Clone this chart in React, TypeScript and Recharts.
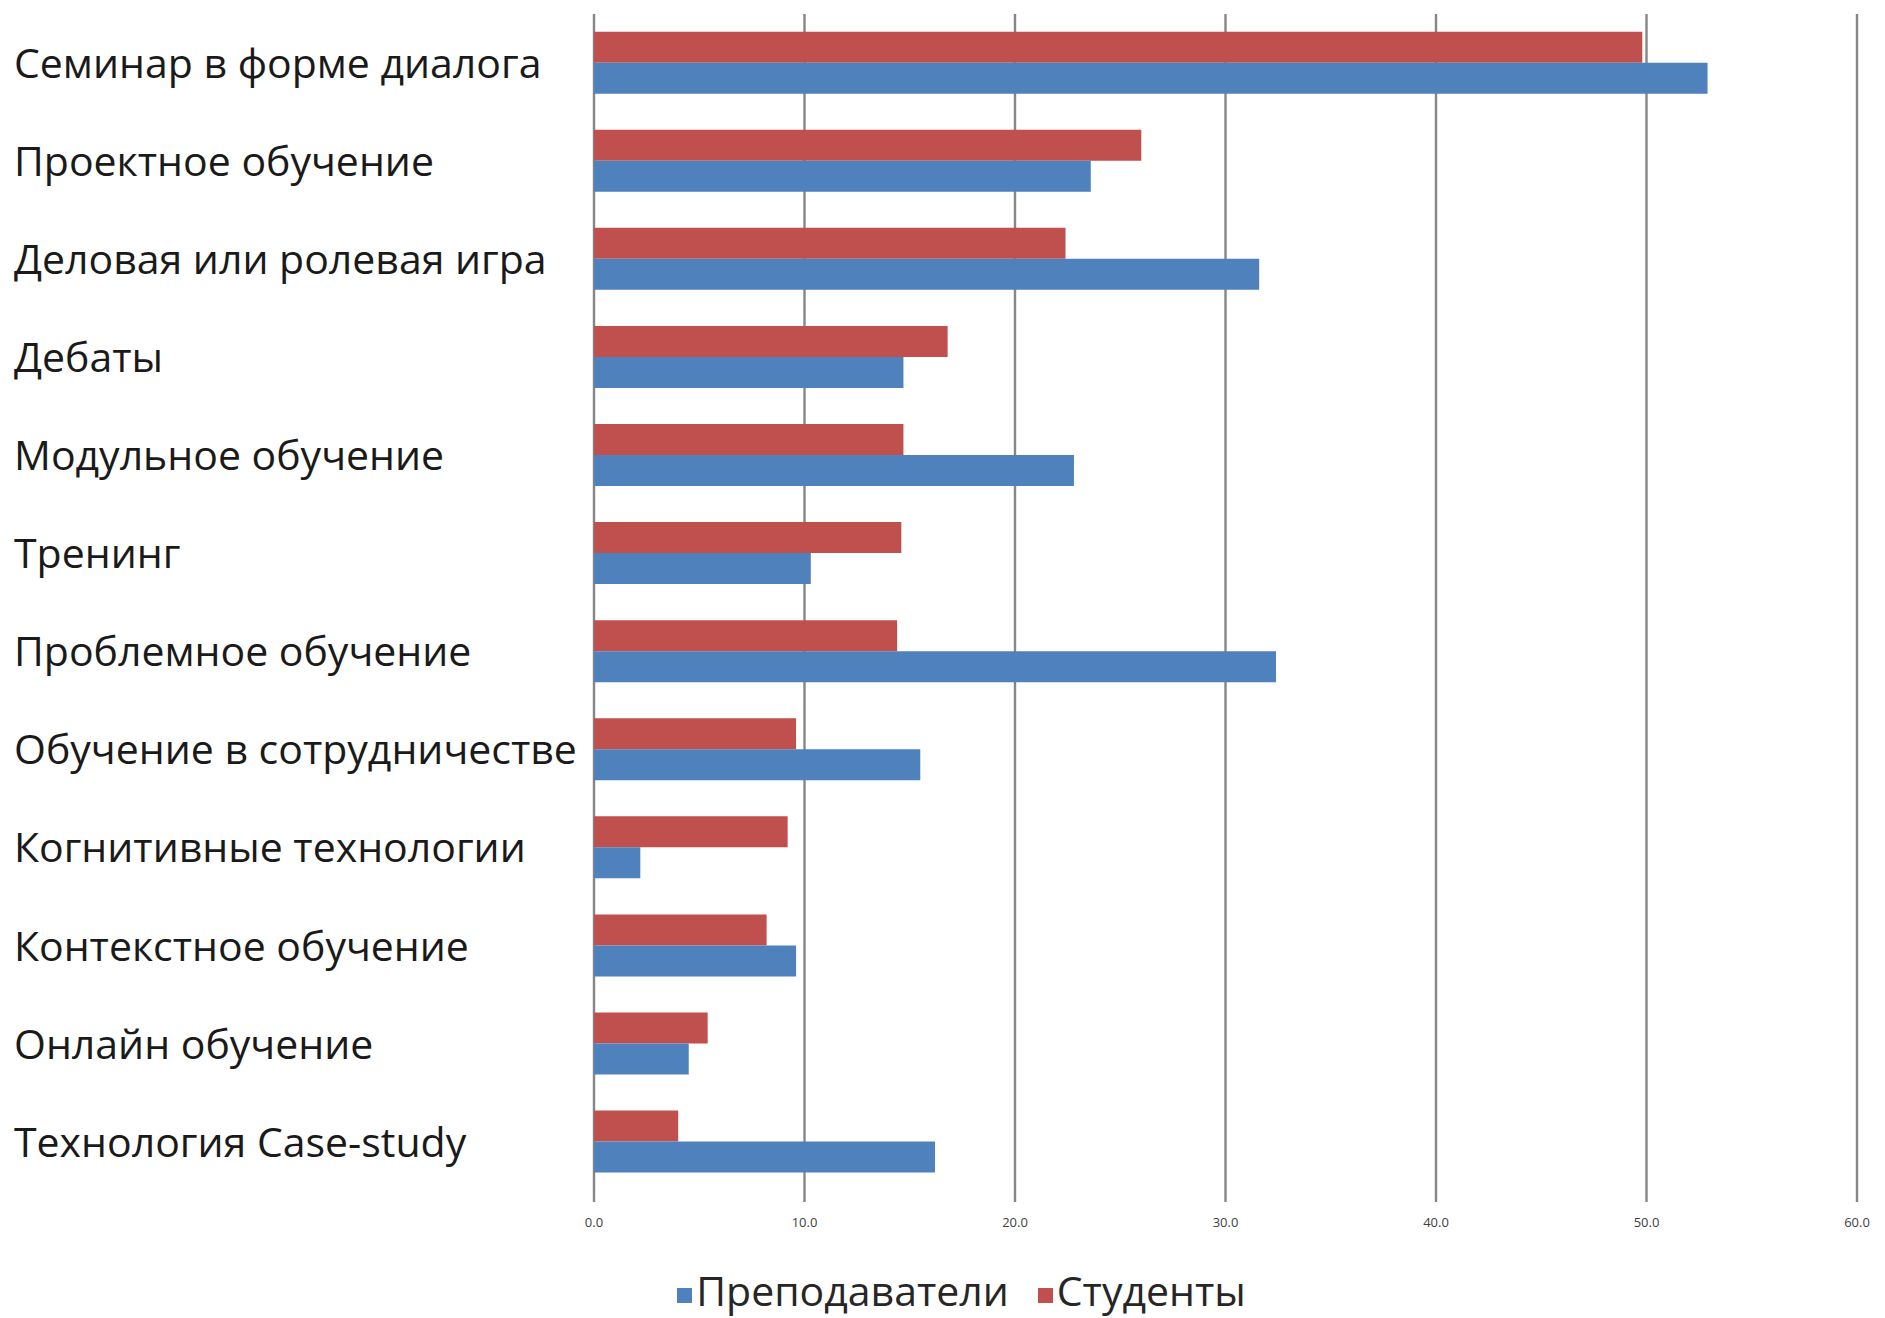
import React from "react"
import { BarChart, Bar, XAxis, YAxis, CartesianGrid, Legend } from "recharts"

const categories = [
  "Семинар в форме диалога",
  "Проектное обучение",
  "Деловая или ролевая игра",
  "Дебаты",
  "Модульное обучение",
  "Тренинг",
  "Проблемное обучение",
  "Обучение в сотрудничестве",
  "Когнитивные технологии",
  "Контекстное обучение",
  "Онлайн обучение",
  "Технология Case-study",
]
const teachers = [52.9, 23.6, 31.6, 14.7, 22.8, 10.3, 32.4, 15.5, 2.2, 9.6, 4.5, 16.2]
const students = [49.8, 26.0, 22.4, 16.8, 14.7, 14.6, 14.4, 9.6, 9.2, 8.2, 5.4, 4.0]
const xTicks = [0, 10, 20, 30, 40, 50, 60]

const BLUE = "#4F81BD"
const RED = "#C0504D"
const GRID = "#868686"
const FONT = "'Open Sans', sans-serif"

const data = categories.map((name, i) => ({
  name,
  teachers: teachers[i],
  students: students[i],
}))

function CategoryTick(props: { y?: number; payload?: { value: string } }) {
  const { y, payload } = props
  return (
    <text x={14} y={y} dy="0.36em" textAnchor="start" fontSize={41} fontFamily={FONT} fill="#1a1a1a">
      {payload?.value}
    </text>
  )
}

function LegendContent() {
  const items = [
    { label: "Преподаватели", color: BLUE },
    { label: "Студенты", color: RED },
  ]
  return (
    <div
      style={{
        display: "flex",
        justifyContent: "center",
        alignItems: "center",
        gap: 29,
        paddingLeft: 38,
        paddingTop: 14,
        fontFamily: FONT,
        fontSize: 41,
        lineHeight: "50px",
        color: "#262626",
      }}
    >
      {items.map((it) => (
        <span key={it.label} style={{ display: "flex", alignItems: "center" }}>
          <span style={{ width: 15, height: 15, background: it.color, marginRight: 4, marginTop: 10 }} />
          {it.label}
        </span>
      ))}
    </div>
  )
}

export default function App() {
  return (
    <div style={{ position: "absolute", left: 0, top: 0, background: "#fff" }}>
      <BarChart
        width={1885}
        height={1318}
        data={data}
        layout="vertical"
        margin={{ top: 14, right: 28, left: 0, bottom: 0 }}
        barCategoryGap="18%"
        barGap={0}
      >
        <CartesianGrid horizontal={false} stroke={GRID} strokeWidth={2.4} />
        <XAxis
          type="number"
          domain={[0, 60]}
          ticks={xTicks}
          interval={0}
          axisLine={false}
          tickLine={{ stroke: GRID, strokeWidth: 2.4 }}
          tickSize={11}
          tickMargin={16}
          height={60}
          tickFormatter={(v: number) => v.toFixed(1)}
          tick={{ fontSize: 13, fill: "#404040", fontFamily: FONT }}
        />
        <YAxis
          type="category"
          dataKey="name"
          width={594}
          axisLine={false}
          tickLine={false}
          interval={0}
          tick={<CategoryTick />}
        />
        <Legend verticalAlign="bottom" height={67} content={<LegendContent />} wrapperStyle={{ left: 0, width: 1885 }} />
        <Bar dataKey="students" name="Студенты" fill={RED} isAnimationActive={false} />
        <Bar dataKey="teachers" name="Преподаватели" fill={BLUE} isAnimationActive={false} />
      </BarChart>
    </div>
  )
}
